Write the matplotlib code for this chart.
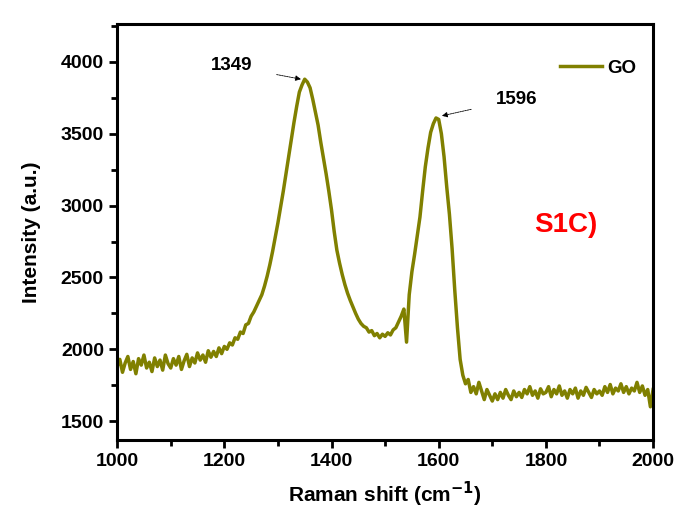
import numpy as np
import matplotlib.pyplot as plt
from matplotlib.ticker import MultipleLocator

plt.rcParams['font.family'] = ['Liberation Sans', 'DejaVu Sans']
plt.rcParams['font.weight'] = 'bold'

# Espectro Raman do GO (passo de 5 cm-1)
raman_shift = np.arange(1000, 2001, 5)
intensidade = [
    1880, 1930, 1840, 1905, 1950, 1860, 1915, 1830, 1935, 1890,
    1960, 1870, 1910, 1845, 1940, 1880, 1925, 1855, 1960, 1900,
    1870, 1935, 1890, 1950, 1860, 1920, 1965, 1880, 1940, 1905,
    1975, 1925, 1960, 1910, 1990, 1945, 1985, 1950, 2010, 1970,
    2020, 2000, 2045, 2030, 2080, 2070, 2120, 2110, 2170, 2180,
    2230, 2260, 2300, 2340, 2380, 2440, 2510, 2590, 2680, 2780,
    2880, 2990, 3100, 3220, 3340, 3460, 3580, 3690, 3790, 3840,
    3880, 3860, 3820, 3740, 3650, 3560, 3440, 3330, 3220, 3100,
    2970, 2820, 2690, 2600, 2520, 2450, 2390, 2340, 2295, 2250,
    2210, 2180, 2160, 2150, 2120, 2130, 2095, 2110, 2080, 2105,
    2090, 2115, 2100, 2135, 2150, 2190, 2230, 2280, 2050, 2380,
    2540, 2660, 2790, 2920, 3100, 3270, 3400, 3510, 3570, 3610,
    3600, 3500, 3340, 3130, 2940, 2700, 2410, 2150, 1930, 1820,
    1760, 1790, 1700, 1740, 1690, 1770, 1710, 1650, 1720, 1680,
    1640, 1690, 1650, 1700, 1660, 1720, 1680, 1650, 1710, 1670,
    1700, 1665, 1720, 1690, 1740, 1680, 1710, 1660, 1725, 1690,
    1700, 1740, 1670, 1720, 1690, 1745, 1680, 1710, 1660, 1720,
    1690, 1730, 1660, 1710, 1680, 1735, 1700, 1665, 1720, 1690,
    1710, 1680, 1740, 1700, 1755, 1690, 1730, 1710, 1760, 1700,
    1740, 1690, 1730, 1710, 1770, 1700, 1745, 1680, 1720, 1600,
    1720,
]

# Picos D e G: (posição, ponta da seta x, ponta da seta y, texto x, texto y)
picos = [(1349, 1343, 3880, 1213, 3972), (1596, 1606, 3625, 1745, 3740)]

fig, ax = plt.subplots(figsize=(6.81, 5.19), dpi=100)
fig.subplots_adjust(left=0.172, right=0.959, top=0.954, bottom=0.152)

ax.plot(raman_shift, intensidade, color='#808000', lw=2.5, label='GO')

# Setas indicando os picos
for pos, px, py, tx, ty in picos:
    ax.annotate(str(pos), xy=(px, py), xytext=(tx, ty),
                fontsize=13.5, fontweight='bold', ha='center', va='center',
                arrowprops=dict(arrowstyle='-|>', color='black', lw=0.6,
                                ls=(0, (2, 1)), mutation_scale=8,
                                shrinkA=16, shrinkB=0))

ax.text(1838, 2865, 'S1C)', color='red', fontsize=20, fontweight='bold',
        ha='center', va='center')

ax.set_xlim(1000, 2000)
ax.set_ylim(1368, 4265)
ax.xaxis.set_major_locator(MultipleLocator(200))
ax.xaxis.set_minor_locator(MultipleLocator(100))
ax.yaxis.set_major_locator(MultipleLocator(500))
ax.yaxis.set_minor_locator(MultipleLocator(250))

ax.set_xlabel('Raman shift (cm$^{\\mathbf{-1}}$)', fontsize=15, fontweight='bold')
ax.set_ylabel('Intensity (a.u.)', fontsize=15, fontweight='bold')
ax.xaxis.set_label_coords(0.5, -0.095)
ax.yaxis.set_label_coords(-0.142, 0.5)
ax.tick_params(which='both', direction='out', width=2, labelsize=14)
ax.tick_params(which='major', length=6)
ax.tick_params(which='minor', length=4)
for lab in ax.get_xticklabels() + ax.get_yticklabels():
    lab.set_fontweight('bold')
for sp in ax.spines.values():
    sp.set_linewidth(2.2)

ax.legend(loc='upper right', frameon=False, fontsize=13.5, handlelength=2.2,
          handletextpad=0.3, bbox_to_anchor=(1.0, 0.955))

plt.savefig('out.png', dpi=100)
